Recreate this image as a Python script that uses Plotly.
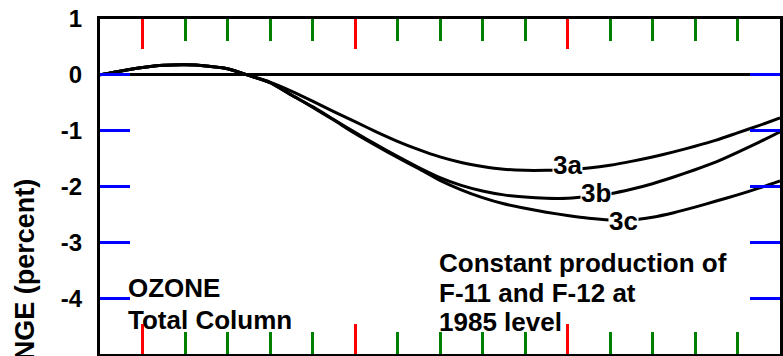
import plotly.graph_objects as go

# ---- data ----
years = [1980, 1982.5, 1985, 1987.5, 1990, 1992.5, 1995, 1997.5, 2000, 2002.5,
         2005, 2007.5, 2010, 2012.5, 2015, 2017.5, 2020, 2022.5, 2025, 2027.5,
         2030, 2032.5, 2035, 2037.5, 2040, 2042.5, 2045, 2047.5, 2050, 2052.5,
         2055, 2057.5, 2060]

ozone_3a = [0.00, 0.07, 0.13, 0.17, 0.18, 0.16, 0.11, -0.01, -0.13, -0.29,
            -0.47, -0.66, -0.84, -1.02, -1.19, -1.34, -1.47, -1.57, -1.64, -1.69,
            -1.71, -1.71, -1.70, -1.67, -1.62, -1.55, -1.47, -1.38, -1.28, -1.17,
            -1.04, -0.91, -0.77]

ozone_3b = [0.00, 0.07, 0.13, 0.17, 0.18, 0.16, 0.11, -0.01, -0.14, -0.36,
            -0.57, -0.80, -1.03, -1.25, -1.46, -1.66, -1.84, -1.98, -2.08, -2.15,
            -2.19, -2.21, -2.21, -2.18, -2.13, -2.05, -1.95, -1.83, -1.70, -1.56,
            -1.39, -1.21, -1.02]

ozone_3c = [0.00, 0.07, 0.13, 0.17, 0.18, 0.16, 0.11, -0.01, -0.14, -0.36,
            -0.58, -0.81, -1.05, -1.27, -1.48, -1.68, -1.89, -2.06, -2.20, -2.31,
            -2.39, -2.46, -2.52, -2.57, -2.60, -2.60, -2.55, -2.47, -2.37, -2.26,
            -2.15, -2.03, -1.90]

series_names = ["3a", "3b", "3c"]
series_values = [ozone_3a, ozone_3b, ozone_3c]
label_pos = [(2035.05, -1.61), (2038.33, -2.11), (2041.61, -2.62)]

y_ticks = [1, 0, -1, -2, -3, -4, -5]
y_ticktext = ["1", "0", "-1", "-2", "-3", "-4", "-5"]

# ---- figure ----
INK = "black"
FONT = "Liberation Sans"

fig = go.Figure()
for name, vals in zip(series_names, series_values):
    fig.add_trace(go.Scatter(x=years, y=vals, mode="lines", name=name,
                             line=dict(color=INK, width=3, shape="spline", smoothing=0.6),
                             showlegend=False))

annotations = []
for name, (ax, ay) in zip(series_names, label_pos):
    annotations.append(dict(x=ax, y=ay, xref="x", yref="y", text=name, showarrow=False,
                            font=dict(family=FONT, size=26, color=INK, weight="bold"),
                            bgcolor="white", borderpad=0, xanchor="center", yanchor="middle"))

text_lines = [
    ("OZONE", 1983.15, -3.81),
    ("Total Column", 1983.15, -4.39),
    ("Constant production of", 2019.8, -3.37),
    ("F-11 and F-12 at", 2019.8, -3.90),
    ("1985 level", 2019.8, -4.42),
]
for t, tx, ty in text_lines:
    annotations.append(dict(x=tx, y=ty, xref="x", yref="y", text=t, showarrow=False,
                            font=dict(family=FONT, size=26, color=INK, weight="bold"),
                            xanchor="left", yanchor="middle", borderpad=0))

annotations.append(dict(x=-0.1098, y=0.530, xref="paper", yref="paper",
                        text="CHANGE (percent)", textangle=-90, showarrow=False,
                        font=dict(family=FONT, size=27, color=INK, weight="bold"),
                        xanchor="center", yanchor="top"))

fig.update_layout(
    width=783, height=356,
    margin=dict(l=100, r=0, t=19, b=2),
    paper_bgcolor="white", plot_bgcolor="white",
    annotations=annotations,
    xaxis=dict(range=[1980, 2060], showgrid=False, zeroline=False,
               showline=True, linecolor=INK, linewidth=3, mirror="ticks",
               ticks="inside", ticklen=30, tickwidth=3, tickcolor="red",
               tick0=1985, dtick=25, showticklabels=False,
               minor=dict(ticks="inside", ticklen=22, tickwidth=3, tickcolor="green",
                          tick0=1980, dtick=5, showgrid=False)),
    yaxis=dict(range=[-5, 1], showgrid=False,
               zeroline=True, zerolinecolor=INK, zerolinewidth=2.5,
               showline=True, linecolor=INK, linewidth=3, mirror="ticks",
               ticks="inside", ticklen=30, tickwidth=3, tickcolor="blue",
               tickvals=y_ticks, ticktext=y_ticktext, ticklabelstandoff=10,
               tickfont=dict(family=FONT, size=24, color=INK, weight="bold")),
)

fig.write_html("out.html")
